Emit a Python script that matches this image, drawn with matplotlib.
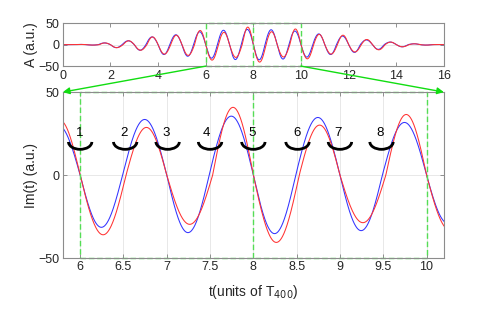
import numpy as np
import matplotlib.pyplot as plt
from matplotlib.patches import Arc, ConnectionPatch

plt.rcParams['font.family'] = ['Liberation Sans', 'DejaVu Sans']

# signed lobe amplitudes, one per half period, centred at 0.25, 0.75, ... 15.75
lobe_t = np.arange(0.25, 16, 0.5)
amp_blue = [0, 0.5, -1, 4, -7, 9, -13, 18, -23, 23, -27, 30,
            -31.5, 33.5, -34.7, 35.5, -35.3, 34.7, -33.5, 31.7,
            -29, 25, -23, 20, -18, 11, -11, 6, -5, 2, -1, 0.3]
amp_red = [0, 0.5, -1, 4, -7, 9, -13, 18, -22, 22, -25, 33,
           -36, 28.7, -29.7, 40.8, -40.6, 30.1, -28.7, 36.5,
           -33, 24, -22, 22, -17, 12, -12, 6, -5, 2, -1, 0.3]
# rising zero crossing offset inside each period (falling ones sit on integers)
rise_blue = 0.49
rise_red = 0.53

# numbered markers in the zoomed panel
mark_x = [6.0, 6.52, 7.01, 7.5, 8.0, 8.51, 9.0, 9.48]
label_x = [5.99, 6.51, 6.99, 7.46, 7.99, 8.51, 8.98, 9.46]
labels = ['1', '2', '3', '4', '5', '6', '7', '8']


def curve(amps, rise, t):
    zc = []
    for k in range(16):
        zc += [k, k + rise]
    zc.append(16)
    y = np.zeros_like(t)
    for i, a in enumerate(amps):
        z0, z1 = zc[i], zc[i + 1]
        m = (t >= z0) & (t <= z1)
        y[m] = a * np.sin(np.pi * (t[m] - z0) / (z1 - z0))
    return y


t = np.linspace(0, 16, 6000)
yb = curve(amp_blue, rise_blue, t)
yr = curve(amp_red, rise_red, t)

fig = plt.figure(figsize=(4.91, 3.09), dpi=100)
ax1 = fig.add_axes([0.128, 0.786, 0.776, 0.139])
ax2 = fig.add_axes([0.128, 0.165, 0.776, 0.537])

green = '#55dd55'
for ax in (ax1, ax2):
    ax.plot(t, yb, color='#3333ff', lw=0.75)
    ax.plot(t, yr, color='#ff3333', lw=0.75)
    ax.plot([6, 10, 10, 6, 6], [-50, -50, 50, 50, -50], ls=(0, (4, 2)),
            color=green, lw=1, clip_on=False)
    ax.plot([8, 8], [-50, 50], ls=(0, (4, 2)), color=green, lw=1)
    ax.set_ylim(-50, 50)
    ax.set_yticks([-50, 0, 50])
    ax.tick_params(direction='in', length=3, width=0.6, colors='#808080',
                   labelcolor='#262626', labelsize=9, pad=2.5,
                   top=True, right=True)
    for s in ax.spines.values():
        s.set_color('#8c8c8c')
        s.set_linewidth(0.8)
    ax.set_axisbelow(True)

ax1.set_xlim(0, 16)
ax1.set_xticks(range(0, 17, 2))
ax1.grid(axis='y', color='#e4e4e4', lw=0.6)
ax1.set_ylabel('A (a.u.)', fontsize=10, color='#262626', labelpad=0)

ax2.set_xlim(5.8, 10.2)
ax2.set_xticks([6, 6.5, 7, 7.5, 8, 8.5, 9, 9.5, 10])
ax2.set_xticklabels(['6', '6.5', '7', '7.5', '8', '8.5', '9', '9.5', '10'])
ax2.grid(color='#e4e4e4', lw=0.6)
ax2.set_ylabel('Im(t) (a.u.)', fontsize=10, color='#262626', labelpad=0)
ax2.set_xlabel('t(units of T$_{400}$)', fontsize=10, color='#262626', labelpad=7)

for cx, lx, lab in zip(mark_x, label_x, labels):
    ax2.add_patch(Arc((cx, 20), 0.27, 9, theta1=200, theta2=340,
                      color='black', lw=2, zorder=5))
    ax2.text(lx, 25.5, lab, ha='center', va='center', fontsize=9.5, zorder=6)

for xa, xb in ((6, 0), (10, 1)):
    con = ConnectionPatch(xyA=(xa, -50), coordsA=ax1.transData,
                          xyB=(xb, 1), coordsB=ax2.transAxes,
                          arrowstyle='-|>', color='#11dd11', lw=1,
                          mutation_scale=10, shrinkA=0, shrinkB=0)
    fig.add_artist(con)

fig.savefig('out.png', dpi=100)
